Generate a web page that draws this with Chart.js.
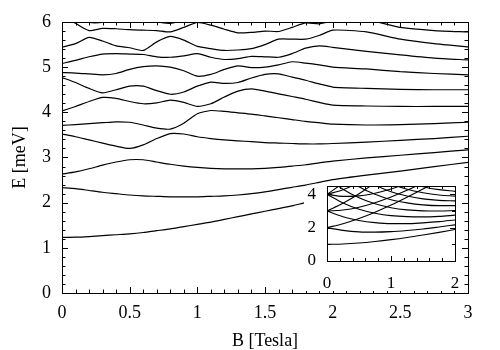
<!DOCTYPE html>
<html>
<head>
<meta charset="utf-8">
<script src="https://cdn.jsdelivr.net/npm/chart.js@4.4.1/dist/chart.umd.min.js"></script>
<style>
  html, body { margin: 0; padding: 0; background: #fff; }
  #wrap { position: relative; width: 500px; height: 350px; }
  #mainChart { position: absolute; left: 0; top: 0; }
  #insetChart { position: absolute; left: 304px; top: 164px; }
</style>
</head>
<body>
<div id="wrap">
  <canvas id="mainChart" width="500" height="350"></canvas>
  <canvas id="insetChart" width="168" height="127"></canvas>
</div>
<script>
// field values (Tesla) shared by all main-panel levels
const B = [0, 0.1, 0.2, 0.3, 0.4, 0.5, 0.6, 0.7, 0.8, 0.9, 1.0, 1.1, 1.2, 1.3, 1.4, 1.5, 1.6, 1.7, 1.8, 1.9, 2.0, 2.25, 2.5, 2.75, 3.0];

// energy levels (meV)
const level1 = [1.23, 1.235, 1.25, 1.27, 1.29, 1.31, 1.34, 1.38, 1.42, 1.47, 1.52, 1.57, 1.63, 1.69, 1.75, 1.81, 1.87, 1.93, 2.0, 2.06, 2.12, null, null, null, null];
const level2 = [2.33, 2.31, 2.27, 2.23, 2.2, 2.17, 2.15, 2.14, 2.13, 2.13, 2.13, 2.14, 2.15, 2.17, 2.2, 2.24, 2.29, 2.34, 2.39, 2.45, 2.51, 2.61, 2.7, 2.8, 2.89];
const level3 = [2.63, 2.68, 2.75, 2.83, 2.9, 2.95, 2.95, 2.9, 2.85, 2.81, 2.78, 2.76, 2.75, 2.75, 2.75, 2.76, 2.78, 2.81, 2.84, 2.88, 2.92, 2.99, 3.05, 3.11, 3.17];
const level4 = [3.52, 3.46, 3.39, 3.32, 3.25, 3.2, 3.28, 3.42, 3.53, 3.52, 3.46, 3.42, 3.39, 3.37, 3.35, 3.33, 3.32, 3.31, 3.3, 3.3, 3.31, 3.34, 3.38, 3.42, 3.47];
const level5 = [3.71, 3.73, 3.75, 3.77, 3.79, 3.78, 3.72, 3.65, 3.63, 3.76, 3.97, 4.04, 4.02, 3.99, 3.96, 3.92, 3.88, 3.84, 3.8, 3.77, 3.74, 3.72, 3.73, 3.75, 3.78];
const level6 = [4.03, 4.13, 4.24, 4.33, 4.31, 4.24, 4.19, 4.21, 4.27, 4.22, 4.13, 4.19, 4.34, 4.47, 4.52, 4.47, 4.41, 4.35, 4.29, 4.22, 4.16, 4.14, 4.13, 4.13, 4.13];
const level7 = [4.77, 4.66, 4.53, 4.43, 4.5, 4.58, 4.58, 4.48, 4.4, 4.45, 4.58, 4.67, 4.64, 4.66, 4.76, 4.84, 4.85, 4.78, 4.71, 4.63, 4.56, 4.53, 4.51, 4.5, 4.5];
const level8 = [4.88, 4.87, 4.85, 4.83, 4.86, 4.95, 5.01, 5.03, 5.0, 4.92, 4.8, 4.84, 4.95, 5.03, 4.99, 5.0, 5.05, 5.12, 5.09, 5.05, 5.0, 4.96, 4.9, 4.86, 4.83];
const level9 = [5.08, 5.15, 5.23, 5.29, 5.3, 5.29, 5.28, 5.23, 5.22, 5.25, 5.3, 5.22, 5.17, 5.19, 5.24, 5.23, 5.22, 5.3, 5.42, 5.47, 5.44, 5.35, 5.27, 5.2, 5.16];
const level10 = [5.44, 5.52, 5.66, 5.58, 5.47, 5.43, 5.37, 5.56, 5.68, 5.6, 5.46, 5.41, 5.37, 5.38, 5.41, 5.5, 5.62, 5.62, 5.62, 5.7, 5.82, 5.78, 5.62, 5.52, 5.45];
const level11 = [6.2, 5.97, 5.81, 5.86, 5.85, 5.83, 5.82, 5.81, 5.78, 5.88, 5.99, 5.93, 5.84, 5.76, 5.77, 5.8, 5.79, 5.88, 5.98, 5.96, 6.02, 6.05, 5.88, 5.81, 5.78];
const level12 = [6.5, 6.1, 5.99, 5.99, 6.06, 6.12, 6.08, 6.0, 5.97, 6.05, 6.2, 6.25, 6.15, 6.05, 5.99, 6.05, 6.2, 6.35, null, null, null, null, null, null, null];

const xTicks = [0, 0.5, 1, 1.5, 2, 2.5, 3];
const yTicks = [0, 1, 2, 3, 4, 5, 6];

// inset: field values and levels
const bInset = [0, 0.25, 0.5, 0.75, 1, 1.25, 1.5, 1.75, 2];
const inset0 = [1.0, 1.02, 1.08, 1.17, 1.28, 1.41, 1.56, 1.72, 1.89];
const inset1 = [2.0, 1.84, 1.75, 1.73, 1.76, 1.83, 1.92, 2.04, 2.17];
const inset2 = [3.0, 2.66, 2.43, 2.3, 2.24, 2.24, 2.29, 2.36, 2.46];
const inset3 = [4.0, 3.48, 3.11, 2.87, 2.72, 2.66, 2.65, 2.68, 2.75];
const inset4 = [5.0, 4.3, 3.79, 3.43, 3.2, 3.07, 3.01, 3.0, 3.03];
const inset5 = [6.0, 5.12, 4.46, 4.0, 3.68, 3.49, 3.37, 3.32, 3.32];
const inset6 = [7.0, 5.94, 5.14, 4.56, 4.16, 3.9, 3.73, 3.64, 3.61];
const inset7 = [8.0, 6.76, 5.82, 5.13, 4.64, 4.31, 4.1, 3.96, 3.89];
const inset8 = [9.0, 7.58, 6.49, 5.7, 5.12, 4.73, 4.46, 4.28, 4.18];
const inset9 = [10.0, 8.4, 7.17, 6.26, 5.61, 5.14, 4.82, 4.6, 4.47];
const insetM1 = [2.0, 2.24, 2.55, 2.93, 3.36, 3.83, 4.32, 4.84, 5.37];
const insetM2 = [3.0, 3.46, 4.03, 4.7, 5.44, 6.24, 7.09, 7.96, 8.86];
const insetM3 = [4.0, 4.68, 5.51, 6.46, 7.5, 8.6, 9.7, 10.8, 12.0];
const insetN1a = [3.0, 3.06, 3.23, 3.5, 3.84, 4.24, 4.69, 5.16, 5.66];
const insetN1b = [4.0, 3.88, 3.91, 4.07, 4.32, 4.66, 5.05, 5.48, 5.95];
const insetN1c = [4.0, 4.28, 4.71, 5.26, 5.92, 6.66, 7.45, 8.28, 9.15];

const xInsetTicks = [0, 1, 2];
const yInsetTicks = [0, 2, 4];

const serif = 'Liberation Serif, "Times New Roman", serif';

// inward tick marks on all four sides plus the frame
const boxTicks = {
  id: 'boxTicks',
  afterDatasetsDraw(chart, args, opts) {
    const { ctx, chartArea: a, scales: { x, y } } = chart;
    ctx.save();
    ctx.strokeStyle = '#000';
    ctx.lineWidth = 1;
    ctx.strokeRect(Math.round(a.left) + 0.5, Math.round(a.top) + 0.5,
      Math.round(a.right - a.left), Math.round(a.bottom - a.top));
    ctx.beginPath();
    const eps = 1e-6;
    for (let v = x.min; v <= x.max + eps; v += opts.xMinor) {
      const major = Math.abs(v / opts.xMajor - Math.round(v / opts.xMajor)) < 1e-4;
      const len = major ? opts.majorLen : opts.minorLen;
      const px = Math.round(x.getPixelForValue(v)) + 0.5;
      ctx.moveTo(px, a.bottom); ctx.lineTo(px, a.bottom - len);
      ctx.moveTo(px, a.top); ctx.lineTo(px, a.top + len);
    }
    for (let v = y.min; v <= y.max + eps; v += opts.yMinor) {
      const major = Math.abs(v / opts.yMajor - Math.round(v / opts.yMajor)) < 1e-4;
      const len = major ? opts.majorLen : opts.minorLen;
      const py = Math.round(y.getPixelForValue(v)) + 0.5;
      ctx.moveTo(a.left, py); ctx.lineTo(a.left + len, py);
      ctx.moveTo(a.right, py); ctx.lineTo(a.right - len, py);
    }
    ctx.stroke();
    ctx.restore();
  }
};

// white backing behind the inset so the main curves are hidden there
const insetBacking = {
  id: 'insetBacking',
  beforeDraw(chart, args, opts) {
    const ctx = chart.ctx;
    ctx.save();
    ctx.fillStyle = '#fff';
    ctx.fillRect(opts.left, opts.top, opts.width, opts.height);
    ctx.restore();
  }
};

function lineSet(xs, ys, width) {
  return {
    data: xs.map((b, i) => ({ x: b, y: ys[i] })),
    borderColor: '#000',
    borderWidth: width,
    pointRadius: 0,
    fill: false,
    tension: 0.2
  };
}

const plainLabel = v => String(v);

const mainLevels = [level1, level2, level3, level4, level5, level6, level7, level8, level9, level10, level11, level12];
const insetLevels = [inset0, inset1, inset2, inset3, inset4, inset5, inset6, inset7, inset8, inset9,
  insetM1, insetM2, insetM3, insetN1a, insetN1b, insetN1c];

new Chart(document.getElementById('mainChart'), {
  type: 'line',
  data: { datasets: mainLevels.map(l => lineSet(B, l, 1.2)) },
  options: {
    responsive: false,
    animation: false,
    layout: { autoPadding: false, padding: { top: 22, right: 32, left: 0, bottom: 0 } },
    plugins: {
      legend: { display: false },
      tooltip: { enabled: false },
      boxTicks: { xMinor: 0.1, xMajor: 0.5, yMinor: 0.2, yMajor: 1, majorLen: 6, minorLen: 3.5 }
    },
    scales: {
      x: {
        type: 'linear', min: 0, max: 3,
        afterFit(s) { s.height = 57; },
        afterBuildTicks(s) { s.ticks = xTicks.map(v => ({ value: v })); },
        grid: { display: false, drawTicks: false },
        border: { display: false },
        ticks: { padding: 9, color: '#000', font: { family: serif, size: 18 }, maxRotation: 0, autoSkip: false, callback: plainLabel },
        title: { display: true, text: 'B [Tesla]', color: '#000', font: { family: serif, size: 18, lineHeight: 1 }, padding: { top: 0, bottom: 0 } }
      },
      y: {
        type: 'linear', min: 0, max: 6,
        afterFit(s) { s.width = 62; },
        afterBuildTicks(s) { s.ticks = yTicks.map(v => ({ value: v })); },
        grid: { display: false, drawTicks: false },
        border: { display: false },
        ticks: { padding: 11, color: '#000', font: { family: serif, size: 18 }, autoSkip: false, callback: plainLabel },
        title: { display: true, text: 'E [meV]', color: '#000', font: { family: serif, size: 18, lineHeight: 1 }, padding: { top: 11, bottom: 0 } }
      }
    }
  },
  plugins: [boxTicks]
});

new Chart(document.getElementById('insetChart'), {
  type: 'line',
  data: { datasets: insetLevels.map(l => Object.assign(lineSet(bInset, l, 1.1), { tension: 0, cubicInterpolationMode: 'monotone' })) },
  options: {
    responsive: false,
    animation: false,
    layout: { autoPadding: false, padding: { top: 22, right: 17, left: 0, bottom: 0 } },
    plugins: {
      legend: { display: false },
      tooltip: { enabled: false },
      insetBacking: { left: 0, top: 22, width: 157, height: 105 },
      boxTicks: { xMinor: 0.2, xMajor: 1, yMinor: 1, yMajor: 2, majorLen: 5, minorLen: 3 }
    },
    scales: {
      x: {
        type: 'linear', min: 0, max: 2,
        afterFit(s) { s.height = 30; },
        afterBuildTicks(s) { s.ticks = xInsetTicks.map(v => ({ value: v })); },
        grid: { display: false, drawTicks: false },
        border: { display: false },
        ticks: { padding: 12, color: '#000', font: { family: serif, size: 17 }, maxRotation: 0, autoSkip: false, callback: plainLabel }
      },
      y: {
        type: 'linear', min: 0, max: 4.5,
        afterFit(s) { s.width = 23; },
        afterBuildTicks(s) { s.ticks = yInsetTicks.map(v => ({ value: v })); },
        grid: { display: false, drawTicks: false },
        border: { display: false },
        ticks: { padding: 11, color: '#000', font: { family: serif, size: 17 }, autoSkip: false, callback: plainLabel }
      }
    }
  },
  plugins: [insetBacking, boxTicks]
});
</script>
</body>
</html>
